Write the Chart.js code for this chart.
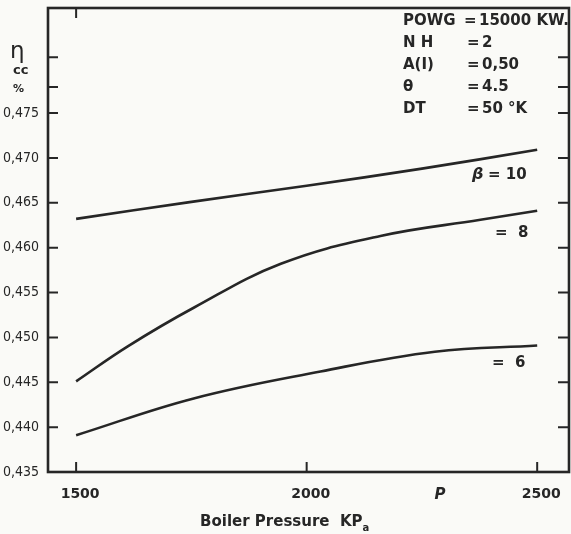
<!DOCTYPE html>
<html>
<head>
<meta charset="utf-8">
<script src="https://cdn.jsdelivr.net/npm/chart.js@4.4.1/dist/chart.umd.min.js"></script>
<style>
  body { margin: 0; background: #fafaf7; }
  #wrap { width: 571px; height: 534px; position: relative; }
</style>
</head>
<body>
<div id="wrap"><canvas id="effChart"></canvas></div>
<script>
// データ
const xTicks = [1500, 2000, 2500];
const yTicks = [0.435, 0.440, 0.445, 0.450, 0.455, 0.460, 0.465, 0.470, 0.475];
const yMinorTicks = [0.4779, 0.4812];

const pressure10 = [1500, 1750, 2000, 2250, 2500];
const eff10 = [0.4632, 0.4651, 0.4669, 0.4688, 0.4709];

const pressure8 = [1500, 1612, 1755, 1944, 2160, 2377, 2500];
const eff8 = [0.4451, 0.4490, 0.4533, 0.4582, 0.4613, 0.4631, 0.4641];

const pressure6 = [1500, 1755, 2030, 2278, 2500];
const eff6 = [0.4391, 0.4432, 0.4462, 0.4484, 0.4491];

const paramLines = [
    ['POWG', '=', '15000 KW.'],
    ['N H', '=', '2'],
    ['A(I)', '=', '0,50'],
    ['θ', '=', '4.5'],
    ['DT', '=', '50 °K']
];

const ink = '#262626';

function toPoints(xs, ys) {
    return xs.map((x, i) => ({ x: x, y: ys[i] }));
}

function lineSet(label, xs, ys) {
    return {
        label: label,
        data: toPoints(xs, ys),
        borderColor: ink,
        borderWidth: 2.6,
        pointRadius: 0,
        tension: 0.4,
        fill: false
    };
}

// 枠・内向き目盛・注記を描く
const decorPlugin = {
    id: 'decor',
    afterDraw(chart) {
        const ctx = chart.ctx;
        const a = chart.chartArea;
        const xs = chart.scales.x;
        const ys = chart.scales.y;
        ctx.save();
        ctx.strokeStyle = ink;
        ctx.fillStyle = ink;
        ctx.lineWidth = 2.6;
        ctx.strokeRect(a.left, a.top, a.right - a.left, a.bottom - a.top);

        ctx.lineWidth = 2;
        ctx.beginPath();
        yTicks.concat(yMinorTicks).forEach(v => {
            const py = ys.getPixelForValue(v);
            ctx.moveTo(a.left, py); ctx.lineTo(a.left + 10, py);
            ctx.moveTo(a.right - 11, py); ctx.lineTo(a.right, py);
        });
        xTicks.forEach(v => {
            const px = xs.getPixelForValue(v);
            ctx.moveTo(px, a.bottom); ctx.lineTo(px, a.bottom - 10);
        });
        const topX = xs.getPixelForValue(xTicks[0]);
        ctx.moveTo(topX, a.top); ctx.lineTo(topX, a.top + 10);
        ctx.stroke();

        // 縦軸タイトル
        ctx.textBaseline = 'middle';
        ctx.textAlign = 'left';
        ctx.font = '23px "DejaVu Sans"';
        ctx.fillText('η', 10, 52);
        ctx.font = 'bold 13px "DejaVu Sans"';
        ctx.fillText('cc', 13, 71);
        ctx.font = 'bold 11px "DejaVu Sans"';
        ctx.fillText('%', 13, 89);

        // パラメータ表
        ctx.font = 'bold 15px "DejaVu Sans"';
        paramLines.forEach((r, i) => {
            const y = 21 + i * 22;
            ctx.fillText(r[0], 403, y);
            ctx.fillText(r[1], i === 0 ? 464 : 467, y);
            ctx.fillText(r[2], i === 0 ? 479 : 482, y);
        });

        // 曲線ラベル
        ctx.font = 'italic bold 16px "DejaVu Sans"';
        ctx.fillText('β', 472, 175);
        ctx.font = 'bold 15px "DejaVu Sans"';
        ctx.fillText('= 10', 488, 175);
        ctx.fillText('=  8', 495, 233);
        ctx.fillText('=  6', 492, 363);

        // 横軸
        ctx.font = 'italic bold 15px "DejaVu Sans"';
        ctx.textAlign = 'center';
        ctx.fillText('P', 440, 495);
        ctx.font = 'bold 15px "DejaVu Sans"';
        ctx.textAlign = 'left';
        const title = 'Boiler Pressure  KP';
        const tw = ctx.measureText(title).width;
        const tx = 200;
        ctx.fillText(title, tx, 522);
        ctx.font = 'bold 10px "DejaVu Sans"';
        ctx.fillText('a', tx + tw, 528);
        ctx.restore();
    }
};

document.addEventListener('DOMContentLoaded', () => {
    const ctx = document.getElementById('effChart').getContext('2d');
    new Chart(ctx, {
        type: 'line',
        data: {
            datasets: [
                lineSet('β = 10', pressure10, eff10),
                lineSet('β = 8', pressure8, eff8),
                lineSet('β = 6', pressure6, eff6)
            ]
        },
        options: {
            responsive: true,
            maintainAspectRatio: false,
            animation: false,
            layout: { padding: { top: 8, right: 2, left: 0, bottom: 0 } },
            plugins: { legend: { display: false }, tooltip: { enabled: false } },
            scales: {
                x: {
                    type: 'linear',
                    min: 1439,
                    max: 2569,
                    grid: { display: false, drawTicks: false },
                    border: { display: false },
                    afterBuildTicks: s => { s.ticks = xTicks.map(v => ({ value: v })); },
                    afterFit: s => {
                        s.height = 62;
                        s.paddingLeft = 0;
                        s.paddingRight = 0;
                    },
                    ticks: {
                        color: ink,
                        padding: 14,
                        labelOffset: 4,
                        font: { family: 'DejaVu Sans', size: 14, weight: 'bold' },
                        callback: v => String(v)
                    }
                },
                y: {
                    min: 0.435,
                    max: 0.4867,
                    grid: { display: false, drawTicks: false },
                    border: { display: false },
                    afterBuildTicks: s => { s.ticks = yTicks.map(v => ({ value: v })); },
                    afterFit: s => {
                        s.width = 48;
                        s.paddingTop = 0;
                        s.paddingBottom = 0;
                    },
                    ticks: {
                        color: ink,
                        padding: 9,
                        font: { family: '"DejaVu Sans Condensed", "DejaVu Sans"', size: 14 },
                        callback: v => v.toFixed(3).replace('.', ',')
                    }
                }
            }
        },
        plugins: [decorPlugin]
    });
});
</script>
</body>
</html>
